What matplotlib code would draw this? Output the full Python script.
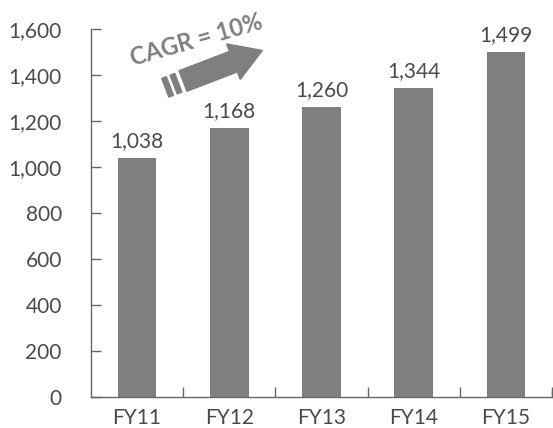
import numpy as np
import matplotlib.pyplot as plt
from matplotlib.patches import Polygon
from matplotlib.transforms import Affine2D, IdentityTransform

years = ["FY11", "FY12", "FY13", "FY14", "FY15"]
revenue = [1038, 1168, 1260, 1344, 1499]
yticks = [0, 200, 400, 600, 800, 1000, 1200, 1400, 1600]

bar_color = "#7f7f7f"
text_color = "#4a4a4a"
axis_color = "#666666"

plt.rcParams["font.family"] = ["Lato", "DejaVu Sans"]

fig = plt.figure(figsize=(5.53, 4.28), dpi=100)
ax = fig.add_axes([91 / 553, 1 - 397 / 428, 461 / 553, 368 / 428])

x = np.arange(len(years))
ax.bar(x, revenue, width=0.42, color=bar_color, zorder=2)
for xi, v in zip(x, revenue):
    ax.text(xi, v + 48, f"{v:,}", ha="center", va="baseline",
            fontsize=15, color=text_color)

ax.set_xlim(-0.5, len(years) - 0.5)
ax.set_ylim(0, 1600)
ax.set_yticks(yticks)
ax.set_yticklabels([f"{t:,}" for t in yticks])

# category ticks sit on the boundaries, labels at the centres
ax.set_xticks(np.arange(0.5, len(years) - 0.5 + 1e-9, 1.0))
ax.set_xticklabels([])
ax.set_xticks(x, minor=True)
ax.set_xticklabels(years, minor=True)
ax.tick_params(axis="x", which="major", direction="in", length=7,
               color=axis_color, width=1)
ax.tick_params(axis="x", which="minor", length=0, pad=8,
               labelsize=15, labelcolor=text_color)
ax.tick_params(axis="y", direction="in", length=7, color=axis_color,
               width=1, pad=21, labelsize=15, labelcolor=text_color)

ax.spines["top"].set_visible(False)
ax.spines["right"].set_visible(False)
for s in ["left", "bottom"]:
    ax.spines[s].set_color(axis_color)
    ax.spines[s].set_linewidth(1)
# short closing tick at the right end of the x axis
ax.plot([1, 1], [0, 0.019], transform=ax.transAxes, color=axis_color,
        lw=1, clip_on=False)

# growth arrow, built horizontally then rotated into place (pixels)
H = 428
ang = 21
tr = Affine2D().rotate_deg(ang).translate(183, H - 81) + IdentityTransform()
arrow_pts = [(0, -11), (54, -11), (54, -19), (85, 0), (54, 19), (54, 11), (0, 11)]
fig.patches.append(Polygon(arrow_pts, closed=True, color=bar_color,
                           transform=tr, figure=fig))
for x0 in (-19, -10):
    stripe = [(x0, -10), (x0 + 5, -10), (x0 + 5, 10), (x0, 10)]
    fig.patches.append(Polygon(stripe, closed=True, color=bar_color,
                               transform=tr, figure=fig))
fig.text(196 / 553, 1 - 40 / 428, "CAGR = 10%", rotation=16,
         rotation_mode="anchor", ha="center", va="center",
         fontsize=17, fontweight="bold", color=bar_color)

fig.savefig("out.png", dpi=100)
